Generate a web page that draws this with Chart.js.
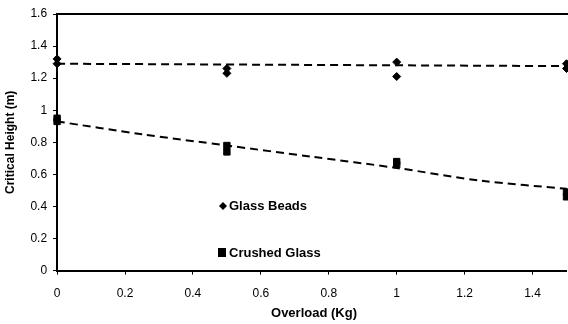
<!DOCTYPE html>
<html>
<head>
<meta charset="utf-8">
<script src="https://cdn.jsdelivr.net/npm/chart.js@4.4.0/dist/chart.umd.min.js"></script>
<style>
  html, body { margin: 0; padding: 0; background: #fff; overflow: hidden; }
  #wrap { width: 572px; height: 324px; }
</style>
</head>
<body>
<div id="wrap"><canvas id="scatterChart"></canvas></div>
<script>
// measured points
var beadsX = [0, 0, 0.5, 0.5, 1, 1, 1.5, 1.5];
var beadsY = [1.32, 1.29, 1.26, 1.23, 1.30, 1.21, 1.29, 1.26];
var crushedX = [0, 0, 0.5, 0.5, 1, 1, 1.5, 1.5];
var crushedY = [0.95, 0.93, 0.78, 0.74, 0.68, 0.66, 0.49, 0.46];

// trend lines
var beadsTrendX = [0, 0.5, 1, 1.5];
var beadsTrendY = [1.29, 1.285, 1.28, 1.275];
var crushedTrendX = [0, 0.25, 0.5, 0.75, 1, 1.25, 1.5];
var crushedTrendY = [0.93, 0.85, 0.78, 0.71, 0.64, 0.56, 0.51];

var xTicks = [0, 0.2, 0.4, 0.6, 0.8, 1, 1.2, 1.4];
var yTicks = [0, 0.2, 0.4, 0.6, 0.8, 1, 1.2, 1.4, 1.6];

var fontFam = 'Arial, "Liberation Sans", sans-serif';

function pts(xs, ys) {
  return xs.map(function(x, i) { return {x: x, y: ys[i]}; });
}

// legend drawn inside the plot area, plus the x axis title
var innerLegend = {
  id: 'innerLegend',
  afterDraw: function(chart) {
    var c = chart.ctx;
    c.save();
    c.fillStyle = '#000';
    // diamond
    c.beginPath();
    c.moveTo(223, 202); c.lineTo(227, 206); c.lineTo(223, 210); c.lineTo(219, 206);
    c.closePath(); c.fill();
    c.fillRect(218, 248, 8, 9);
    c.font = 'bold 13px ' + fontFam;
    c.textBaseline = 'middle';
    c.fillText('Glass Beads', 229, 206);
    c.fillText('Crushed Glass', 229, 253);
    c.textAlign = 'center';
    c.fillText('Overload (Kg)', 314, 313);
    c.restore();
  }
};

// top border line
var topBorder = {
  id: 'topBorder',
  afterDraw: function(chart) {
    var a = chart.chartArea, c = chart.ctx;
    c.save();
    c.strokeStyle = '#000';
    c.lineWidth = 2;
    c.beginPath();
    c.moveTo(a.left, a.top); c.lineTo(a.right + 2, a.top);
    c.stroke();
    c.restore();
  }
};

var ctx = document.getElementById('scatterChart').getContext('2d');
var myChart = new Chart(ctx, {
  type: 'scatter',
  data: {
    datasets: [
      {
        label: 'Glass Beads trend',
        data: pts(beadsTrendX, beadsTrendY),
        showLine: true,
        borderColor: '#000',
        borderWidth: 2,
        borderDash: [8, 5],
        pointRadius: 0,
        tension: 0
      },
      {
        label: 'Crushed Glass trend',
        data: pts(crushedTrendX, crushedTrendY),
        showLine: true,
        borderColor: '#000',
        borderWidth: 2,
        borderDash: [8, 5],
        pointRadius: 0,
        tension: 0.3
      },
      {
        label: 'Glass Beads',
        data: pts(beadsX, beadsY),
        pointStyle: 'rectRot',
        pointRadius: 4,
        backgroundColor: '#000',
        borderColor: '#000',
        borderWidth: 1
      },
      {
        label: 'Crushed Glass',
        data: pts(crushedX, crushedY),
        pointStyle: 'rect',
        pointRadius: 4.5,
        backgroundColor: '#000',
        borderColor: '#000',
        borderWidth: 1
      }
    ]
  },
  options: {
    responsive: true,
    maintainAspectRatio: false,
    animation: false,
    clip: false,
    layout: { padding: { top: 14, right: 0, left: 3, bottom: 11 } },
    plugins: {
      legend: { display: false },
      tooltip: { enabled: false }
    },
    scales: {
      x: {
        type: 'linear',
        min: 0,
        max: 1.5,
        afterBuildTicks: function(axis) {
          axis.ticks = xTicks.map(function(v) { return {value: v}; });
        },
        border: { color: '#000', width: 2 },
        grid: { drawOnChartArea: false, color: '#000', tickLength: 4 },
        ticks: {
          color: '#000',
          padding: 12,
          maxRotation: 0,
          callback: function(v) { return String(v); },
          font: { family: fontFam, size: 12 }
        }
      },
      y: {
        min: 0,
        max: 1.6,
        afterBuildTicks: function(axis) {
          axis.ticks = yTicks.map(function(v) { return {value: v}; });
        },
        border: { color: '#000', width: 2 },
        grid: { drawOnChartArea: false, color: '#000', tickLength: 4 },
        ticks: {
          color: '#000',
          padding: 6,
          callback: function(v) { return String(v); },
          font: { family: fontFam, size: 12 }
        },
        title: {
          display: true,
          text: 'Critical Height (m)',
          color: '#000',
          padding: { top: 0, bottom: 7 },
          font: { family: fontFam, size: 12, weight: 'bold' }
        }
      }
    }
  },
  plugins: [innerLegend, topBorder]
});
</script>
</body>
</html>
